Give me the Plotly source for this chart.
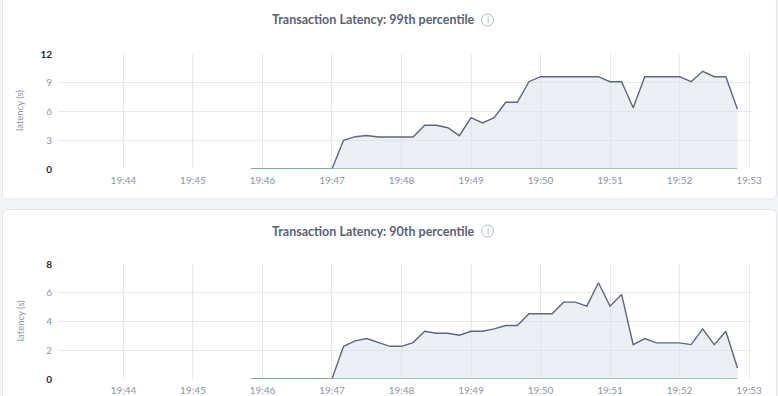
import plotly.graph_objects as go
import pandas as pd

W, H = 778, 396

# ---- data ----
times = pd.date_range("2024-01-01 19:45:50", "2024-01-01 19:52:50", freq="10s")
p99_values = [0, 0, 0, 0, 0, 0, 0, 0,
              3.0, 3.37, 3.5, 3.34, 3.34, 3.34, 3.34, 4.56, 4.56, 4.31, 3.48,
              5.36, 4.8, 5.36, 6.96, 6.96, 9.11, 9.63, 9.63, 9.63, 9.63, 9.63,
              9.63, 9.11, 9.11, 6.4, 9.63, 9.63, 9.63, 9.63, 9.11, 10.19, 9.63,
              9.63, 6.23]
p90_values = [0, 0, 0, 0, 0, 0, 0, 0,
              2.28, 2.66, 2.82, 2.54, 2.28, 2.28, 2.54, 3.33, 3.19, 3.19, 3.05,
              3.33, 3.33, 3.5, 3.73, 3.73, 4.55, 4.55, 4.55, 5.36, 5.36, 5.08,
              6.71, 5.08, 5.9, 2.4, 2.82, 2.52, 2.52, 2.52, 2.4, 3.5, 2.4,
              3.33, 0.77]
baseline_values = [0] * len(times)
x_tick_vals = ["2024-01-01 19:%02d:00" % m for m in range(44, 54)]
x_tick_text = ["19:%02d" % m for m in range(44, 54)]
p99_ticks = [0, 3, 6, 9, 12]
p90_ticks = [0, 2, 4, 6, 8]
titles = ["Transaction Latency: 99th percentile", "Transaction Latency: 90th percentile"]

LINE = "#5b6682"
FILL = "rgba(221,225,234,0.55)"
GREEN = "#7cc293"
GRID = "#e6e8ec"
TICK = "#8d96a8"
DARK = "#1e2b47"
TITLE = "#58627a"
FONT = "Lato"

def px(x):
    return x / W

def py(y):
    return 1 - y / H

def ticktext(vals):
    out = []
    for i, v in enumerate(vals):
        if i == 0 or i == len(vals) - 1:
            out.append("<b><span style='color:%s'>%s</span></b>" % (DARK, v))
        else:
            out.append(str(v))
    return out

fig = go.Figure()

# grid axis (base) = y / y2 ; labelled data axis (overlay) = y3 / y4
panels = [
    dict(vals=p99_values, ticks=p99_ticks, top=54, bottom=169, gax="", dax="3", xax="",
         title_y=20, card=(-6, 199)),
    dict(vals=p90_values, ticks=p90_ticks, top=264.3, bottom=379, gax="2", dax="4", xax="2",
         title_y=231, card=(209.5, 404)),
]

shapes = []
annotations = []
layout_axes = {}
for i, p in enumerate(panels):
    xa = "x" + p["xax"]
    gy = "y" + p["gax"]
    dy = "y" + p["dax"]
    # invisible trace so the grid subplot is drawn
    fig.add_trace(go.Scatter(x=times, y=baseline_values, mode="lines", xaxis=xa, yaxis=gy,
                             line=dict(color="rgba(0,0,0,0)", width=0), hoverinfo="skip",
                             showlegend=False))
    fig.add_trace(go.Scatter(x=times, y=p["vals"], mode="lines", xaxis=xa, yaxis=dy,
                             line=dict(color=LINE, width=1.4), fill="tozeroy",
                             fillcolor=FILL, hoverinfo="skip", showlegend=False))
    fig.add_trace(go.Scatter(x=times, y=baseline_values, mode="lines", xaxis=xa, yaxis=dy,
                             line=dict(color=GREEN, width=1.4), hoverinfo="skip",
                             showlegend=False, cliponaxis=False))
    layout_axes["xaxis" + p["xax"]] = dict(
        domain=[px(58), px(751)], anchor=gy, automargin=False,
        range=["2024-01-01 19:43:03.5", "2024-01-01 19:53:01.7"],
        tickvals=x_tick_vals, ticktext=x_tick_text, showgrid=True, gridcolor=GRID,
        gridwidth=1, zeroline=False, showline=False, ticks="outside", ticklen=2,
        tickcolor="rgba(0,0,0,0)", tickfont=dict(family=FONT, size=10, color=TICK),
    )
    yrng = [0, p["ticks"][-1]]
    layout_axes["yaxis" + p["gax"]] = dict(
        domain=[py(p["bottom"]), py(p["top"])], anchor=xa, automargin=False,
        range=yrng, tickvals=p["ticks"][1:-1], showticklabels=False,
        showgrid=True, gridcolor=GRID, gridwidth=1, zeroline=False, showline=False,
        ticks="",
    )
    layout_axes["yaxis" + p["dax"]] = dict(
        anchor=xa, overlaying=gy, side="left", automargin=False,
        range=yrng, tickvals=p["ticks"], ticktext=ticktext(p["ticks"]),
        showgrid=False, zeroline=False, showline=False,
        ticks="outside", ticklen=3, tickcolor="rgba(0,0,0,0)",
        tickfont=dict(family=FONT, size=10, color=TICK),
    )
    # card
    y0, y1 = p["card"]
    x0, x1 = 2.5, 776.5
    r = 5
    path = ("M %f,%f L %f,%f Q %f,%f %f,%f L %f,%f Q %f,%f %f,%f L %f,%f Q %f,%f %f,%f "
            "L %f,%f Q %f,%f %f,%f Z") % (
        px(x0 + r), py(y0), px(x1 - r), py(y0), px(x1), py(y0), px(x1), py(y0 + r),
        px(x1), py(y1 - r), px(x1), py(y1), px(x1 - r), py(y1),
        px(x0 + r), py(y1), px(x0), py(y1), px(x0), py(y1 - r),
        px(x0), py(y0 + r), px(x0), py(y0), px(x0 + r), py(y0))
    shapes.append(dict(type="path", xref="paper", yref="paper", path=path,
                       fillcolor="white", line=dict(color="#e3e6ec", width=1), layer="below"))
    # title
    annotations.append(dict(x=px(373), y=py(p["title_y"]), xref="paper", yref="paper",
                            text="<b>%s</b>" % titles[i], showarrow=False,
                            font=dict(family=FONT, size=12.5, color=TITLE),
                            xanchor="center", yanchor="middle"))
    # info icon
    cx, cy, rr = 487.5, p["title_y"], 6
    shapes.append(dict(type="circle", xref="paper", yref="paper",
                       x0=px(cx - rr), x1=px(cx + rr), y0=py(cy + rr), y1=py(cy - rr),
                       line=dict(color="#b5bbc6", width=1), fillcolor="rgba(0,0,0,0)"))
    annotations.append(dict(x=px(cx), y=py(cy), xref="paper", yref="paper", text="i",
                            showarrow=False, font=dict(family=FONT, size=9, color="#aab0bb"),
                            xanchor="center", yanchor="middle"))
    # axis title
    annotations.append(dict(x=px(20), y=py((p["top"] + p["bottom"]) / 2 - 0.5), xref="paper",
                            yref="paper", text="latency (s)", textangle=-90, showarrow=False,
                            font=dict(family=FONT, size=9.5, color=TICK),
                            xanchor="center", yanchor="middle"))

fig.update_layout(
    width=W, height=H, margin=dict(l=0, r=0, t=0, b=0, pad=0), autosize=False,
    paper_bgcolor="#f4f5f8", plot_bgcolor="rgba(0,0,0,0)",
    shapes=shapes, annotations=annotations, showlegend=False,
    font=dict(family=FONT), **layout_axes,
)

fig.write_html(
    "out.html",
    config={"displayModeBar": False, "staticPlot": True},
    post_script="document.body.style.margin='0';document.body.style.padding='0';"
                "document.body.style.overflow='hidden';"
                "document.documentElement.style.overflow='hidden';",
)
